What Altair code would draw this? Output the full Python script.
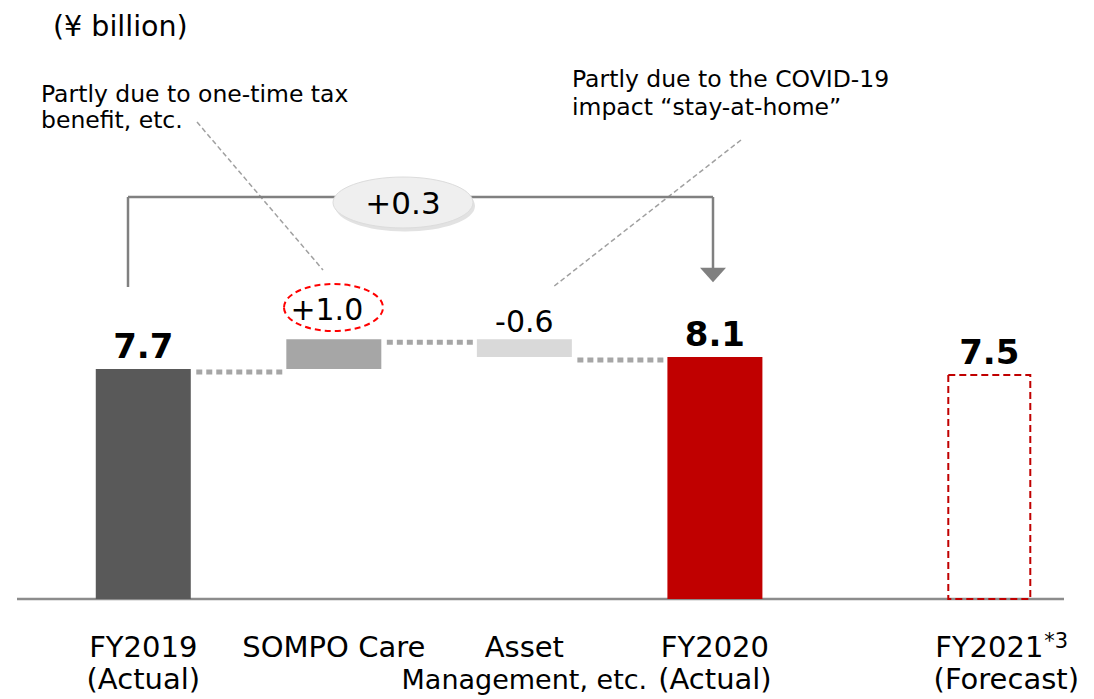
import altair as alt
import pandas as pd

# ---------------- data ----------------
categories = ["FY2019", "SOMPO Care", "Asset Management, etc.", "FY2020", "FY2021"]
kinds = ["total", "delta", "delta", "total", "forecast"]
values = [7.7, 1.0, -0.6, 8.1, 7.5]
label_line1 = ["FY2019", "SOMPO Care", "Asset", "FY2020", "FY2021"]
label_line2 = ["(Actual)", "", "Management, etc.", "(Actual)", "(Forecast)"]
footnote_mark = "*3"
yoy_change = 0.3
unit_note = "(¥ billion)"
note_tax = "Partly due to one-time tax\nbenefit, etc."
note_covid = "Partly due to the COVID-19\nimpact “stay-at-home”"

bar_colors = ["#595959", "#a6a6a6", "#d9d9d9", "#c00000"]
FONT = "DejaVu Sans"

# ---------------- waterfall geometry from values ----------------
starts, ends, labels = [], [], []
running = 0.0
for k, v in zip(kinds, values):
    if k == "delta":
        s, e = running, round(running + v, 2)
        running = e
        labels.append(f"{v:+.1f}")
    else:
        s, e = 0.0, v
        if k == "total":
            running = v
        labels.append(f"{v:.1f}")
    starts.append(s)
    ends.append(e)

df = pd.DataFrame({
    "idx": list(range(len(categories))),
    "category": categories,
    "kind": kinds,
    "value": values,
    "start": starts,
    "end": ends,
    "label": labels,
    "line1": label_line1,
    "line2": label_line2,
})

conn = pd.DataFrame({"i": [0, 1, 2], "level": ends[0:3]})

xs = alt.Scale(domain=[-0.6837, 4.9213], nice=False, zero=False)
ys = alt.Scale(domain=[0, 19.786], nice=False, zero=False, range=[591, 0])
slot_expr = "datum.idx + (datum.idx == 4 ? 0.44 : 0)"

base = alt.Chart(df).transform_calculate(slot=slot_expr)
X = alt.X("slot:Q", scale=xs, axis=None)

bars = base.transform_filter("datum.kind != 'forecast'").mark_bar(size=95).encode(
    x=X,
    y=alt.Y("start:Q", scale=ys, axis=None),
    y2="end:Q",
    color=alt.Color("category:N", scale=alt.Scale(domain=categories[:4], range=bar_colors), legend=None),
)

forecast = base.transform_filter("datum.kind == 'forecast'").mark_bar(
    size=82, fillOpacity=0, stroke="#c00000", strokeWidth=2, strokeDash=[7, 4]
).encode(
    x=X,
    y=alt.Y("start:Q", scale=ys, axis=None),
    y2="end:Q",
)

connectors = alt.Chart(conn).transform_calculate(i2="datum.i + 1").mark_rule(
    color="#a6a6a6", strokeWidth=5, strokeDash=[6, 4], xOffset=53, x2Offset=-49, yOffset=3, y2Offset=3
).encode(
    x=alt.X("i:Q", scale=xs, axis=None),
    x2="i2:Q",
    y=alt.Y("level:Q", scale=ys, axis=None),
)

baseline_rule = alt.Chart(pd.DataFrame({"v": [0]})).mark_rule(color="#8c8c8c", strokeWidth=2.5).encode(
    y=alt.Y("v:Q", scale=ys, axis=None), x=alt.value(9), x2=alt.value(1056)
)

totals_text = base.transform_filter("datum.kind != 'delta'").mark_text(
    font=FONT, fontSize=34, fontWeight="bold", baseline="alphabetic", dy=-11, color="#000000"
).encode(x=X, y=alt.Y("end:Q", scale=ys), text="label:N")

delta_pos_text = base.transform_filter("datum.kind == 'delta' && datum.value > 0").mark_text(
    font=FONT, fontSize=30, baseline="alphabetic", dy=-19, dx=-7, color="#000000"
).encode(x=X, y=alt.Y("end:Q", scale=ys), text="label:N")

delta_neg_text = base.transform_filter("datum.kind == 'delta' && datum.value < 0").mark_text(
    font=FONT, fontSize=30, baseline="alphabetic", dy=-7, color="#000000"
).encode(x=X, y=alt.Y("start:Q", scale=ys), text="label:N")

line1_text = base.mark_text(font=FONT, fontSize=29, baseline="alphabetic", color="#000000").encode(
    x=X, y=alt.value(649), text="line1:N"
)
line2_text = base.transform_filter("datum.idx == 0 || datum.idx == 3").mark_text(
    font=FONT, fontSize=29, baseline="alphabetic", color="#000000"
).encode(x=X, y=alt.value(681), text="line2:N")
line2_mid_text = base.transform_filter("datum.idx == 2").mark_text(
    font=FONT, fontSize=27, baseline="alphabetic", color="#000000"
).encode(x=X, y=alt.value(681), text="line2:N")
line2_fc_text = base.transform_filter("datum.idx == 4").mark_text(
    font=FONT, fontSize=29, baseline="alphabetic", dx=17, color="#000000"
).encode(x=X, y=alt.value(681), text="line2:N")
sup_text = base.transform_filter("datum.idx == 4").transform_calculate(sup=f"'{footnote_mark}'").mark_text(
    font=FONT, fontSize=21, baseline="alphabetic", align="left", dx=55, color="#000000"
).encode(x=X, y=alt.value(640), text="sup:N")

# ---------------- annotations ----------------
one = pd.DataFrame({"t": [""]})

def txt(t, x, y, size, align="left", **kw):
    return alt.Chart(pd.DataFrame({"t": [t]})).mark_text(
        font=FONT, fontSize=size, align=align, baseline="alphabetic", color="#000000", lineBreak="\n", **kw
    ).encode(x=alt.value(x), y=alt.value(y), text="t:N")

unit_text = txt(unit_note, 45, 28, 28.5)
tax_text = txt(note_tax, 33, 94, 23.5, lineHeight=26)
covid_text = txt(note_covid, 564, 79, 23.5, lineHeight=28)

def seg(x1, y1, x2, y2, **kw):
    return alt.Chart(one).mark_rule(**kw).encode(
        x=alt.value(x1), y=alt.value(y1), x2=alt.value(x2), y2=alt.value(y2)
    )

leader1 = seg(189, 114, 315, 262, color="#a0a0a0", strokeWidth=1.5, strokeDash=[5, 3])
leader2 = seg(733, 132, 545, 279, color="#a0a0a0", strokeWidth=1.5, strokeDash=[5, 3])

BR = dict(color="#808080", strokeWidth=2.5)
br_left = seg(120, 189, 120, 279, **BR)
br_top = seg(120, 189, 705, 189, **BR)
br_right = seg(705, 189, 705, 262, **BR)

tri_path = "M-1,-0.55L1,-0.55L0,0.55Z"
arrow = alt.Chart(one).mark_point(
    shape=tri_path, size=676, filled=True, color="#808080", opacity=1, strokeWidth=0
).encode(x=alt.value(705), y=alt.value(267))


def ellipse_path(r):
    k = 0.5523
    return (
        f"M-1,0C-1,{-r*k:.4f},{-k},{-r:.4f},0,{-r:.4f}"
        f"C{k},{-r:.4f},1,{-r*k:.4f},1,0"
        f"C1,{r*k:.4f},{k},{r:.4f},0,{r:.4f}"
        f"C{-k},{r:.4f},-1,{r*k:.4f},-1,0Z"
    )

bubble_shadow = alt.Chart(one).mark_point(
    shape=ellipse_path(0.364), size=19600, filled=True, color="#bfbfbf", opacity=0.45, strokeWidth=0
).encode(x=alt.value(397), y=alt.value(198))
bubble = alt.Chart(one).mark_point(
    shape=ellipse_path(0.364), size=19600, filled=True, fill="#efefef", stroke="#dcdcdc",
    strokeWidth=1, opacity=1
).encode(x=alt.value(395), y=alt.value(194.5))
bubble_text = txt(f"{yoy_change:+.1f}", 395, 206, 31, align="center")

red_ring = alt.Chart(one).mark_point(
    shape=ellipse_path(0.475), size=9801, filled=False, stroke="#ff0000", strokeWidth=2,
    strokeDash=[6, 4], opacity=1
).encode(x=alt.value(325.5), y=alt.value(299.5))

chart = alt.layer(
    baseline_rule, connectors, bars, forecast,
    leader1, leader2, br_left, br_top, br_right, arrow,
    bubble_shadow, bubble, bubble_text, red_ring,
    totals_text, delta_pos_text, delta_neg_text,
    line1_text, line2_text, line2_mid_text, line2_fc_text, sup_text,
    unit_text, tax_text, covid_text,
).properties(
    width=1078, height=690, padding=0, autosize=alt.AutoSizeParams(type="none")
).configure_view(stroke=None)

chart.save("out.html", embed_options={"renderer": "svg", "actions": False})
